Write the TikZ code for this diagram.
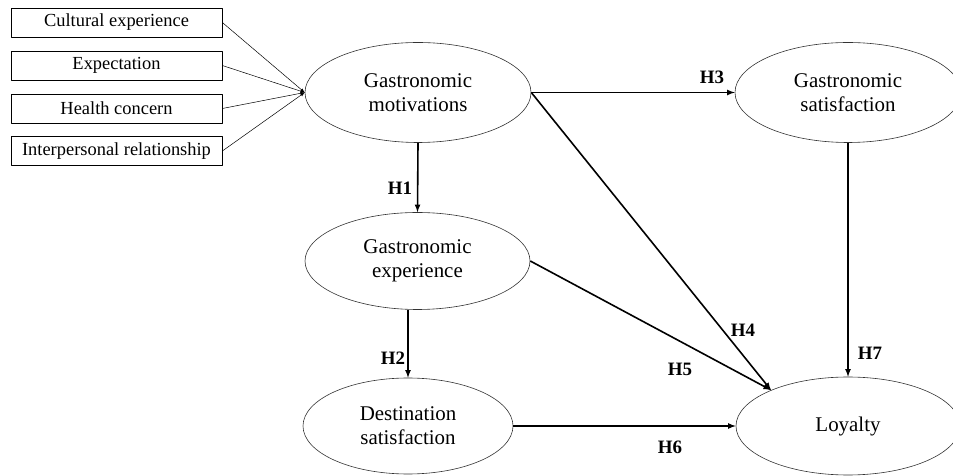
\documentclass[tikz,border=0pt]{standalone}
\usepackage{fontspec}
\setmainfont{Liberation Serif}
\usetikzlibrary{shapes.geometric,arrows}
\begin{document}
\begin{tikzpicture}[>=latex,line join=bevel,
    itembox/.style={draw,rectangle,line width=0.7bp,minimum width=211bp,minimum height=29bp,inner sep=0pt,font=\fontsize{18.5}{22}\selectfont},
    construct/.style={draw=black!80,ellipse,line width=0.6bp,inner sep=0pt,align=center,font=\fontsize{21}{24}\selectfont},
    hyp/.style={font=\bfseries\fontsize{19}{22}\selectfont},
    path/.style={->,line width=1.6bp},
    feed/.style={->,line width=0.5bp},
  ]
    \useasboundingbox (0bp,0bp) rectangle (953bp,476bp);
    %%
    \node (cult) at (116.5bp,453.5bp) [itembox] {Cultural experience};
    \node (expt) at (116.5bp,410.5bp) [itembox] {Expectation};
    \node (hlth) at (116.5bp,367.5bp) [itembox] {Health concern};
    \node (intp) at (116.5bp,325.0bp) [itembox] {Interpersonal relationship};
    \node (mot) at (418.0bp,383.5bp) [construct,minimum width=226bp,minimum height=100bp] {Gastronomic\\motivations};
    \node (gsat) at (848.0bp,383.5bp) [construct,minimum width=226bp,minimum height=100bp] {Gastronomic\\satisfaction};
    \node (gexp) at (417.5bp,215.0bp) [construct,minimum width=225bp,minimum height=97bp] {Gastronomic\\experience};
    \node (dsat) at (408.0bp,50.0bp) [construct,minimum width=210bp,minimum height=96bp] {Destination\\satisfaction};
    \node (loy) at (848.0bp,50.0bp) [construct,minimum width=224bp,minimum height=98bp] {Loyalty};
    %
    \node (h1) at (400.0bp,288.0bp) [hyp] {H1};
    \node (h2) at (393.0bp,118.0bp) [hyp] {H2};
    \node (h3) at (712.0bp,399.0bp) [hyp] {H3};
    \node (h4) at (743.0bp,146.0bp) [hyp] {H4};
    \node (h5) at (680.0bp,107.0bp) [hyp] {H5};
    \node (h6) at (670.0bp,29.0bp) [hyp] {H6};
    \node (h7) at (870.0bp,123.0bp) [hyp] {H7};
    %
    \draw [feed] (cult.east) -- (mot.west);
    \draw [feed] (expt.east) -- (mot.west);
    \draw [feed] (hlth.east) -- (mot.west);
    \draw [feed] (intp.east) -- (mot.west);
    \draw [path] (mot.south) -- (gexp.north);
    \draw [path] (dsat.north |- gexp.south) -- (dsat.north);
    \draw [path] (mot.east) -- (gsat.west);
    \draw [path] (mot.east) -- (loy.155);
    \draw [path] (gexp.east) -- (loy.155);
    \draw [path] (dsat.east) -- (loy.west);
    \draw [path] (gsat.south) -- (loy.north);
    %
\end{tikzpicture}
\end{document}
